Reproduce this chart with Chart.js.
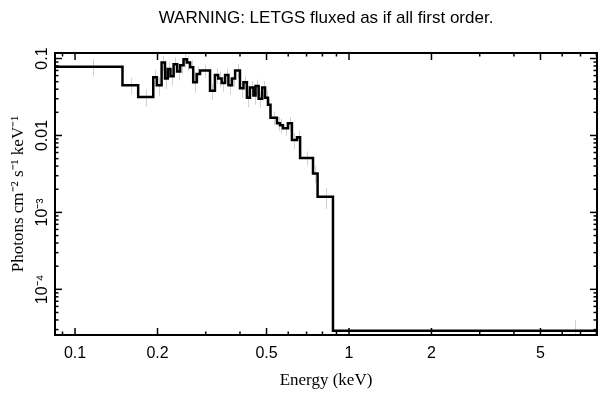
<!DOCTYPE html>
<html lang="en">
<head>
  <meta charset="UTF-8">
  <title>LETGS spectrum</title>
  <script src="https://cdn.jsdelivr.net/npm/chart.js"></script>
  <style>
    html, body { margin: 0; padding: 0; background: #fff; }
    canvas { display: block; }
  </style>
</head>
<body>

  <canvas id="grafico" width="609" height="398"></canvas>

  <script>
    // bin edges in keV (one more than the flux values)
    const edges = [0.084, 0.149, 0.170, 0.193, 0.199, 0.207, 0.213, 0.218, 0.223, 0.229,
                   0.236, 0.242, 0.249, 0.256, 0.263, 0.270, 0.278, 0.286, 0.311, 0.324,
                   0.333, 0.343, 0.353, 0.363, 0.374, 0.384, 0.400, 0.412, 0.424, 0.435,
                   0.448, 0.456, 0.468, 0.482, 0.494, 0.506, 0.517, 0.546, 0.560, 0.574,
                   0.599, 0.619, 0.646, 0.663, 0.739, 0.768, 0.874, 12.5];
    // photons cm^-2 s^-1 keV^-1 per bin
    const flux = [0.078, 0.045, 0.0317, 0.057, 0.045, 0.089, 0.055, 0.073, 0.059, 0.084,
                  0.068, 0.082, 0.098, 0.089, 0.077, 0.049, 0.063, 0.070, 0.038, 0.061,
                  0.055, 0.048, 0.061, 0.045, 0.055, 0.070, 0.041, 0.049, 0.031, 0.042,
                  0.033, 0.044, 0.030, 0.042, 0.031, 0.025, 0.017, 0.0144, 0.0136, 0.0124,
                  0.0144, 0.0087, 0.0095, 0.0051, 0.0032, 0.0016, 0.000029];
    const fluxErr = [0.02, 0.011, 0.008, 0.014, 0.012, 0.02, 0.015, 0.017, 0.015, 0.02,
                     0.016, 0.02, 0.022, 0.02, 0.018, 0.013, 0.015, 0.014, 0.009, 0.014,
                     0.013, 0.011, 0.013, 0.011, 0.012, 0.015, 0.01, 0.011, 0.008, 0.009,
                     0.008, 0.009, 0.007, 0.009, 0.007, 0.005, 0.0035, 0.003, 0.003, 0.0025,
                     0.003, 0.002, 0.002, 0.0011, 0.0008, 0.0005, 0.000011];

    const xTicks = [0.1, 0.2, 0.5, 1, 2, 5];
    const xTickLabels = ['0.1', '0.2', '0.5', '1', '2', '5'];
    const xMinor = [0.09, 0.3, 0.4, 0.6, 0.7, 0.8, 0.9, 3, 4, 6, 7, 8];
    const yTicks = [0.1, 0.01, 0.001, 0.0001];
    const yTickLabels = ['0.1', '0.01', '10\u207B\u00B3', '10\u207B\u2074'];
    const yMinor = [3e-5, 4e-5, 5e-5, 6e-5, 7e-5, 8e-5, 9e-5,
                    2e-4, 3e-4, 4e-4, 5e-4, 6e-4, 7e-4, 8e-4, 9e-4,
                    2e-3, 3e-3, 4e-3, 5e-3, 6e-3, 7e-3, 8e-3, 9e-3,
                    0.02, 0.03, 0.04, 0.05, 0.06, 0.07, 0.08, 0.09];

    const sans = "'Liberation Sans', Arial, Helvetica, sans-serif";
    const serif = "'Liberation Serif', 'Times New Roman', serif";

    // step line: value of each bin starts at its left edge
    const puntos = flux.map((v, i) => ({ x: edges[i], y: v }));
    puntos.push({ x: edges[edges.length - 1], y: flux[flux.length - 1] });

    const marco = {
      id: 'marco',
      beforeDatasetsDraw(chart) {
        const { ctx, chartArea: a, scales: { x, y } } = chart;
        ctx.save();
        ctx.beginPath();
        ctx.rect(a.left, a.top, a.right - a.left, a.bottom - a.top);
        ctx.clip();
        ctx.strokeStyle = '#d2d2d2';
        ctx.lineWidth = 1;
        flux.forEach((v, i) => {
          const px = Math.round(x.getPixelForValue((edges[i] + edges[i + 1]) / 2)) + 0.5;
          ctx.beginPath();
          ctx.moveTo(px, y.getPixelForValue(v + fluxErr[i]));
          ctx.lineTo(px, y.getPixelForValue(Math.max(v - fluxErr[i], 1e-9)));
          ctx.stroke();
        });
        ctx.restore();
      },
      afterDraw(chart) {
        const { ctx, chartArea: a, scales: { x, y } } = chart;
        ctx.save();
        ctx.strokeStyle = '#000';
        ctx.lineWidth = 1.5;
        const tick = (x1, y1, x2, y2) => {
          ctx.beginPath(); ctx.moveTo(x1, y1); ctx.lineTo(x2, y2); ctx.stroke();
        };
        xTicks.forEach(v => {
          const px = x.getPixelForValue(v);
          tick(px, a.bottom, px, a.bottom - 7);
          tick(px, a.top, px, a.top + 7);
        });
        xMinor.forEach(v => {
          const px = x.getPixelForValue(v);
          tick(px, a.bottom, px, a.bottom - 3.5);
          tick(px, a.top, px, a.top + 3.5);
        });
        yTicks.forEach(v => {
          const py = y.getPixelForValue(v);
          tick(a.left, py, a.left + 7, py);
          tick(a.right, py, a.right - 7, py);
        });
        yMinor.forEach(v => {
          const py = y.getPixelForValue(v);
          tick(a.left, py, a.left + 3.5, py);
          tick(a.right, py, a.right - 3.5, py);
        });
        ctx.lineWidth = 2;
        ctx.strokeRect(a.left, a.top, a.right - a.left, a.bottom - a.top);

        // y labels, rotated like the reference
        ctx.fillStyle = '#000';
        ctx.font = '16px ' + sans;
        ctx.textAlign = 'center';
        ctx.textBaseline = 'alphabetic';
        yTicks.forEach((v, i) => {
          ctx.save();
          ctx.translate(a.left - 8, y.getPixelForValue(v));
          ctx.rotate(-Math.PI / 2);
          ctx.fillText(yTickLabels[i], 0, 0);
          ctx.restore();
        });
        ctx.restore();
      }
    };

    new Chart(document.getElementById('grafico'), {
      type: 'line',
      data: {
        datasets: [{
          data: puntos,
          stepped: true,
          borderColor: '#000',
          borderWidth: 2.5,
          pointRadius: 0,
          fill: false
        }]
      },
      options: {
        responsive: false,
        animation: false,
        layout: { padding: { right: 12 } },
        plugins: {
          legend: { display: false },
          tooltip: { enabled: false },
          title: {
            display: true,
            text: 'WARNING: LETGS fluxed as if all first order.',
            fullSize: false,
            color: '#000',
            font: { family: sans, size: 17, weight: 'normal' },
            padding: { top: 8, bottom: 24.6 }
          }
        },
        scales: {
          x: {
            type: 'logarithmic',
            min: 0.0845,
            max: 8.04,
            grid: { display: false, drawTicks: false },
            border: { display: false },
            afterBuildTicks: s => { s.ticks = xTicks.map(v => ({ value: v })); },
            afterFit: s => { s.height = 63; },
            ticks: {
              autoSkip: false,
              maxRotation: 0,
              padding: 9,
              color: '#000',
              font: { family: sans, size: 16 },
              callback: (v, i) => xTickLabels[i]
            },
            title: {
              display: true,
              text: 'Energy (keV)',
              color: '#000',
              font: { family: serif, size: 17 },
              padding: { top: 0, bottom: 7 }
            }
          },
          y: {
            type: 'logarithmic',
            min: 2.55e-5,
            max: 0.118,
            grid: { display: false, drawTicks: false },
            border: { display: false },
            ticks: { display: false },
            afterFit: s => { s.width = 55; },
            title: {
              display: true,
              text: 'Photons cm\u207B\u00B2 s\u207B\u00B9 keV\u207B\u00B9',
              color: '#000',
              font: { family: serif, size: 17 },
              padding: { top: 8, bottom: 0 }
            }
          }
        }
      },
      plugins: [marco]
    });
  </script>

</body>
</html>
